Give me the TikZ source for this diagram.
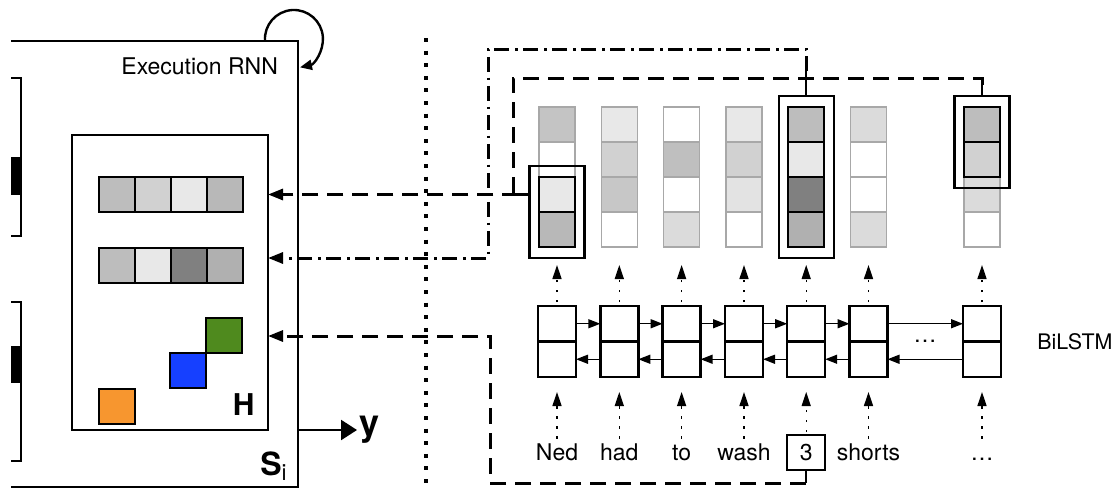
\documentclass[tikz,border=0pt]{standalone}
\usepackage{fontspec}
\setmainfont{TeX Gyre Heros}
\setsansfont{TeX Gyre Heros}
\usetikzlibrary{arrows.meta,positioning,fit}
\definecolor{hGreen}{RGB}{79,138,30}
\definecolor{hBlue}{RGB}{22,64,255}
\definecolor{hOrange}{RGB}{247,150,47}
\definecolor{cellEdge}{RGB}{168,168,168}

\begin{document}
\begin{tikzpicture}[
    x=0.5pt, y=0.5pt,
    font=\fontsize{11.5}{13}\selectfont,
    % memory cells
    cell/.style={
        draw=black,
        line width=1pt,
        minimum width=18pt,
        minimum height=17.5pt,
        inner sep=0pt,
        outer sep=0pt
    },
    fadecell/.style={cell, draw=cellEdge, line width=0.8pt},
    % frame round the selected cells
    frame/.style={draw, line width=1.1pt, inner xsep=4.75pt, inner ysep=5.5pt},
    % BiLSTM halves
    lstm/.style={
        draw,
        line width=1.2pt,
        minimum width=19pt,
        minimum height=17.75pt,
        inner sep=0pt,
        outer sep=0pt
    },
    word/.style={text height=8pt, text depth=2pt, inner sep=1.5pt},
    % connectors
    stub/.style={line width=1.2pt},
    dashconn/.style={line width=1.5pt, dash pattern=on 8pt off 4.5pt},
    dashdotconn/.style={line width=1.5pt, dash pattern=on 7.5pt off 2.8pt on 1.4pt off 2.8pt},
    into/.style={-{Triangle[length=7.5pt,width=5.5pt]}},
    uparrow/.style={
        line width=0.7pt,
        dash pattern=on 1.2pt off 3.8pt,
        -{Triangle[length=7pt,width=4.5pt]}
    },
    lstmarrow/.style={line width=0.7pt, -{Triangle[length=6pt,width=4.5pt]}},
    sepline/.style={line width=1.8pt, dash pattern=on 2pt off 4.3pt}
]
    \useasboundingbox (0,0) rectangle (1118,489);

    % --- 1. left: previous state (cut off) ---
    \draw[line width=1.2pt] (11,411) -- (21,411) -- (21,253) -- (11,253);
    \fill (11,294) rectangle (21,332);
    \draw[line width=1.2pt] (11,187) -- (21,187) -- (21,28) -- (11,28);
    \fill (11,106) rectangle (21,143);

    % --- 2. state S_i of the execution RNN ---
    \node[minimum width=143.5pt, minimum height=223pt, inner sep=0pt, outer sep=0pt] (si) at (154.5,225) {};
    \draw[line width=1.2pt] (si.north west) -- (si.north east) -- (si.south east) -- (si.south west);
    \draw[line width=1.2pt, -{Triangle[length=6pt,width=5pt]}]
        ([xshift=-16.5pt]si.north east) arc[start angle=184, end angle=-78, radius=14.5pt];
    \node[anchor=east] (rnnlabel) at ([xshift=-6.5pt, yshift=-12.5pt]si.north east) {Execution RNN};
    \node[anchor=base east, inner sep=0pt, font=\fontsize{16}{16}\selectfont\bfseries] (silabel)
        at ([xshift=-5pt, yshift=6pt]si.south east) {S\textsubscript{\mdseries i}};

    % output y
    \node[anchor=west, inner sep=1pt, font=\fontsize{18}{18}\selectfont\bfseries] (yout) at (357,59) {y};
    \draw[line width=1.2pt, -{Triangle[length=8pt,width=10pt]}] (si.east |- yout.west) -- (yout.west);

    % --- 3. memory H ---
    \node[draw, line width=1.1pt, minimum width=98pt, minimum height=147.5pt, inner sep=0pt, outer sep=0pt] (hbox) at (170,206.5) {};
    \node[anchor=base east, inner sep=0pt, font=\fontsize{15}{15}\selectfont\bfseries] (hlabel)
        at ([xshift=-6.5pt, yshift=7.5pt]hbox.south east) {H};
    \foreach \g [count=\i] in {26,18,9,28}
        \node[cell, fill=black!\g] (ha\i) at (81+36*\i,294.5) {};
    \foreach \g [count=\i] in {26,9,50,31}
        \node[cell, fill=black!\g] (hb\i) at (81+36*\i,223.5) {};
    \node[cell, fill=hGreen] (hgreen) at (224,153.5) {};
    \node[cell, fill=hBlue, below left=0pt and 0pt of hgreen] (hblue) {};
    \node[cell, fill=hOrange] (horange) at (117,83) {};

    % separator
    \coordinate (septop) at (426,451);
    \coordinate (sepbot) at (426,0);
    \draw[sepline] (septop) -- (sepbot);

    % --- 4. attention over the BiLSTM states ---
    \foreach \k/\x/\pa/\pb/\pc/\pd in {1/557/23/0/9/28, 2/619.3/9/18/22/0, 3/681.6/0/25/0/14,
                                        4/744/9/18/11/0, 5/806.2/26/9/50/31, 6/868.5/14/0/0/14,
                                        7/982/26/18/14/0}
        \foreach \g [count=\r] in {\pa,\pb,\pc,\pd}
            \node[fadecell, fill=black!\g] (c\k-\r) at (\x,399.5-35*\r) {};

    % selected cells
    \foreach \r/\g in {3/9, 4/28}
        \node[cell, fill=black!\g] (s1-\r) at (c1-\r) {};
    \foreach \r/\g in {1/26, 2/9, 3/50, 4/31}
        \node[cell, fill=black!\g] (s5-\r) at (c5-\r) {};
    \foreach \r/\g in {1/26, 2/18}
        \node[cell, fill=black!\g] (s7-\r) at (c7-\r) {};
    \node[frame, fit=(s1-3)(s1-4)] (hl1) {};
    \node[frame, fit=(s5-1)(s5-4)] (hl5) {};
    \node[frame, fit=(s7-1)(s7-2)] (hl7) {};

    % BiLSTM
    \foreach \k/\x in {1/557, 2/619.3, 3/681.6, 4/744, 5/806.2, 6/868.5, 7/982} {
        \node[lstm] (fw\k) at (\x,165.25) {};
        \node[lstm] (bw\k) at (\x,129.75) {};
    }
    \foreach \k [evaluate=\k as \n using int(\k+1)] in {1,...,6} {
        \draw[lstmarrow] (fw\k) -- (fw\n);
        \draw[lstmarrow] (bw\n) -- (bw\k);
    }
    \node[anchor=base] (fwdots) at (925,147) {\ldots};
    \node[anchor=west, inner sep=0pt, font=\fontsize{10.7}{12}\selectfont] (bilstm) at (1037,147) {BiLSTM};

    % input words
    \foreach \k/\x/\w in {1/557/Ned, 2/619.3/had, 3/681.6/to, 4/744/wash, 6/868.5/shorts, 7/982/\ldots}
        \node[word, anchor=base] (w\k) at (\x,29) {\w};
    \node[draw, line width=1pt, minimum width=19pt, minimum height=17.5pt, inner sep=0pt] (w5) at (806.2,36.5) {3};

    \foreach \k in {1,...,7} {
        \draw[uparrow, shorten <=1pt, shorten >=7.5pt] (w\k) -- (bw\k);
        \draw[uparrow, shorten <=2pt, shorten >=9pt] (fw\k) -- (c\k-4);
    }

    % --- 5. reads into H ---
    % first row
    \draw[stub] (hl1.west |- s1-3) -- ++(-5pt,0) coordinate (d1a);
    \draw[dashconn, into] (d1a) -- (hbox.east |- d1a);
    \draw[stub] (hl7.north) -- ++(0,5pt) coordinate (d7a);
    \coordinate (d1turn) at (513,411);
    \draw[dashconn] (d7a) |- (d1turn) -- (d1turn |- d1a);

    % second row
    \draw[stub] (hl5.north) -- ++(0,12pt) coordinate (d5a);
    \coordinate (d5turn) at (488,440);
    \coordinate (d5in) at (488,231);
    \draw[dashdotconn, into] (d5a) |- (d5turn) -- (d5in) -- (hbox.east |- d5in);

    % entity slot
    \draw[stub] (w5.south) -- ++(0,-6pt) coordinate (d3a);
    \coordinate (d3in) at (490,153);
    \draw[dashconn, into] (d3a) -| (d3in) -- (hbox.east |- d3in);

\end{tikzpicture}
\end{document}
